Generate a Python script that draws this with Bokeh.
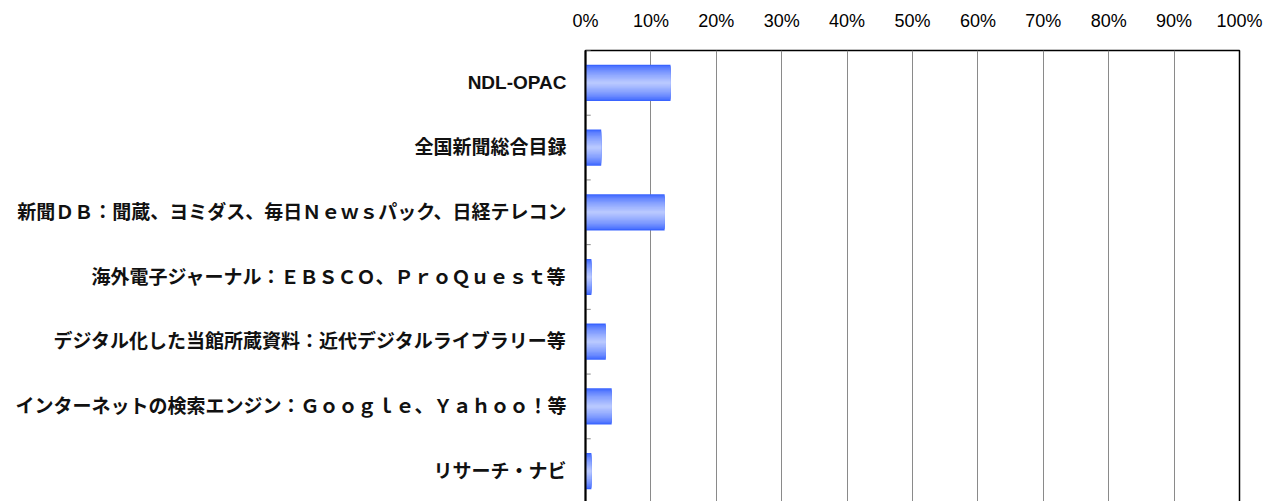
from bokeh.plotting import figure
from bokeh.embed import file_html
from bokeh.resources import INLINE
from bokeh.models import FixedTicker, NumeralTickFormatter, ColumnDataSource
from bokeh.transform import dodge

categories = [
    "NDL-OPAC",
    "全国新聞総合目録",
    "新聞ＤＢ：聞蔵、ヨミダス、毎日Ｎｅｗｓパック、日経テレコン",
    "海外電子ジャーナル：ＥＢＳＣＯ、ＰｒｏＱｕｅｓｔ等",
    "デジタル化した当館所蔵資料：近代デジタルライブラリー等",
    "インターネットの検索エンジン：Ｇｏｏｇｌｅ、Ｙａｈｏｏ！等",
    "リサーチ・ナビ",
]
values = [0.130, 0.024, 0.121, 0.009, 0.031, 0.040, 0.009]
x_ticks = [0.0, 0.1, 0.2, 0.3, 0.4, 0.5, 0.6, 0.7, 0.8, 0.9, 1.0]

src = ColumnDataSource(dict(cat=categories, val=values))

p = figure(
    width=1270, height=503,
    y_range=list(reversed(categories)),
    x_range=(0, 1),
    x_axis_location="above",
    output_backend="svg",
    toolbar_location=None,
    min_border_left=585, min_border_right=31,
    min_border_top=50, min_border_bottom=0,
)

# gradient bars: layered hbars, edge blue -> light centre
edge = (58, 100, 255)
centre = (184, 200, 255)
n = 14
full_h = 0.56
for i in range(n):
    t = (i / (n - 1)) ** 0.7
    c = tuple(int(edge[k] + (centre[k] - edge[k]) * t) for k in range(3))
    h = full_h * (1 - i / n)
    p.hbar(y="cat", right="val", left=0, height=h, source=src,
           fill_color="#%02x%02x%02x" % c, line_color=None)

# small boundary ticks inside the left axis
p.segment(x0=0, x1=0.008, y0=dodge("cat", 0.5, range=p.y_range),
          y1=dodge("cat", 0.5, range=p.y_range), source=src,
          line_color="#888888", line_width=1)

font = "Liberation Sans, Noto Sans CJK JP"

xa = p.xaxis[0]
xa.ticker = FixedTicker(ticks=x_ticks)
xa.formatter = NumeralTickFormatter(format="0%")
xa.major_label_text_font = font
xa.major_label_text_font_size = "18px"
xa.major_label_text_color = "black"
xa.major_tick_line_color = None
xa.minor_tick_line_color = None
xa.axis_line_color = None
xa.major_label_standoff = 14

ya = p.yaxis[0]
ya.major_label_text_font = font
ya.major_label_text_font_size = "19px"
ya.major_label_text_font_style = "bold"
ya.major_label_text_color = "#111111"
ya.major_tick_line_color = None
ya.major_tick_out = 0
ya.major_tick_in = 0
ya.axis_line_color = "black"
ya.axis_line_width = 2
ya.major_label_standoff = 19

p.xgrid.grid_line_color = "#8a8a8a"
p.xgrid.grid_line_width = 1
p.ygrid.grid_line_color = None
p.outline_line_color = "black"
p.outline_line_width = 1.5
p.background_fill_color = "white"
p.border_fill_color = "white"

open("out.html", "w").write(file_html(p, INLINE))
